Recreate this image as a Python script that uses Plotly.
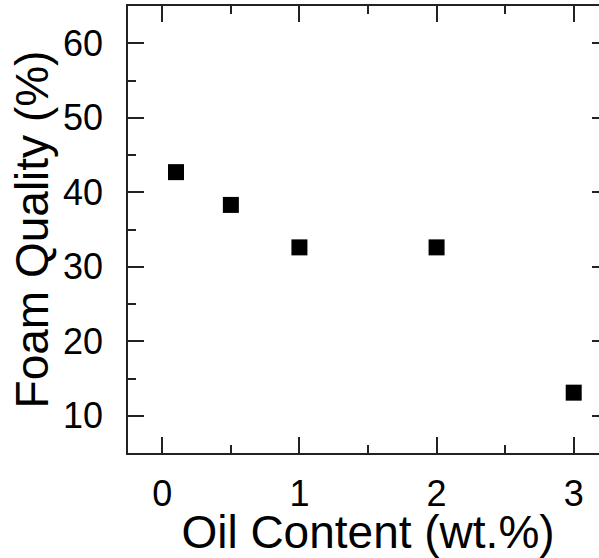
import plotly.graph_objects as go

oil_content = [0.1, 0.5, 1.0, 2.0, 3.0]
foam_quality = [42.7, 38.3, 32.6, 32.6, 13.1]

x_ticks = [0, 1, 2, 3]
y_ticks = [10, 20, 30, 40, 50, 60]

FONT = "Liberation Sans"
AX = "#222222"

fig = go.Figure()
fig.add_trace(go.Scatter(
    x=oil_content, y=foam_quality, mode="markers",
    marker=dict(symbol="square", size=16, color="black", line=dict(width=0)),
    showlegend=False,
))

common = dict(
    showline=True, linecolor=AX, linewidth=1.5, mirror="allticks",
    ticks="inside", ticklen=16, tickwidth=1.5, tickcolor=AX,
    showgrid=False, zeroline=False, automargin=False,
    tickfont=dict(family=FONT, size=36, color="black"),
)

fig.update_xaxes(
    range=[-0.25, 3.25], tickvals=x_ticks, ticktext=[str(v) for v in x_ticks],
    minor=dict(ticks="inside", ticklen=8, dtick=0.5, tick0=0, tickwidth=1.5, tickcolor=AX),
    title=dict(text="Oil Content (wt.%)", font=dict(family=FONT, size=46, color="black"), standoff=0),
    ticklabelstandoff=8,
    **common,
)
fig.update_yaxes(
    range=[5, 65], tickvals=y_ticks, ticktext=[str(v) for v in y_ticks],
    minor=dict(ticks="inside", ticklen=8, dtick=5, tick0=0, tickwidth=1.5, tickcolor=AX),
    title=dict(text="Foam Quality (%)", font=dict(family=FONT, size=46, color="black"), standoff=0),
    ticklabelstandoff=16,
    **common,
)

fig.update_layout(
    width=608, height=558,
    margin=dict(l=128, r=0, t=6, b=105),
    paper_bgcolor="white", plot_bgcolor="white",
)

fig.write_html(
    "out.html",
    config={"displayModeBar": False},
    post_script="document.body.style.margin='0';document.body.style.padding='0';document.body.style.overflow='hidden';",
)
